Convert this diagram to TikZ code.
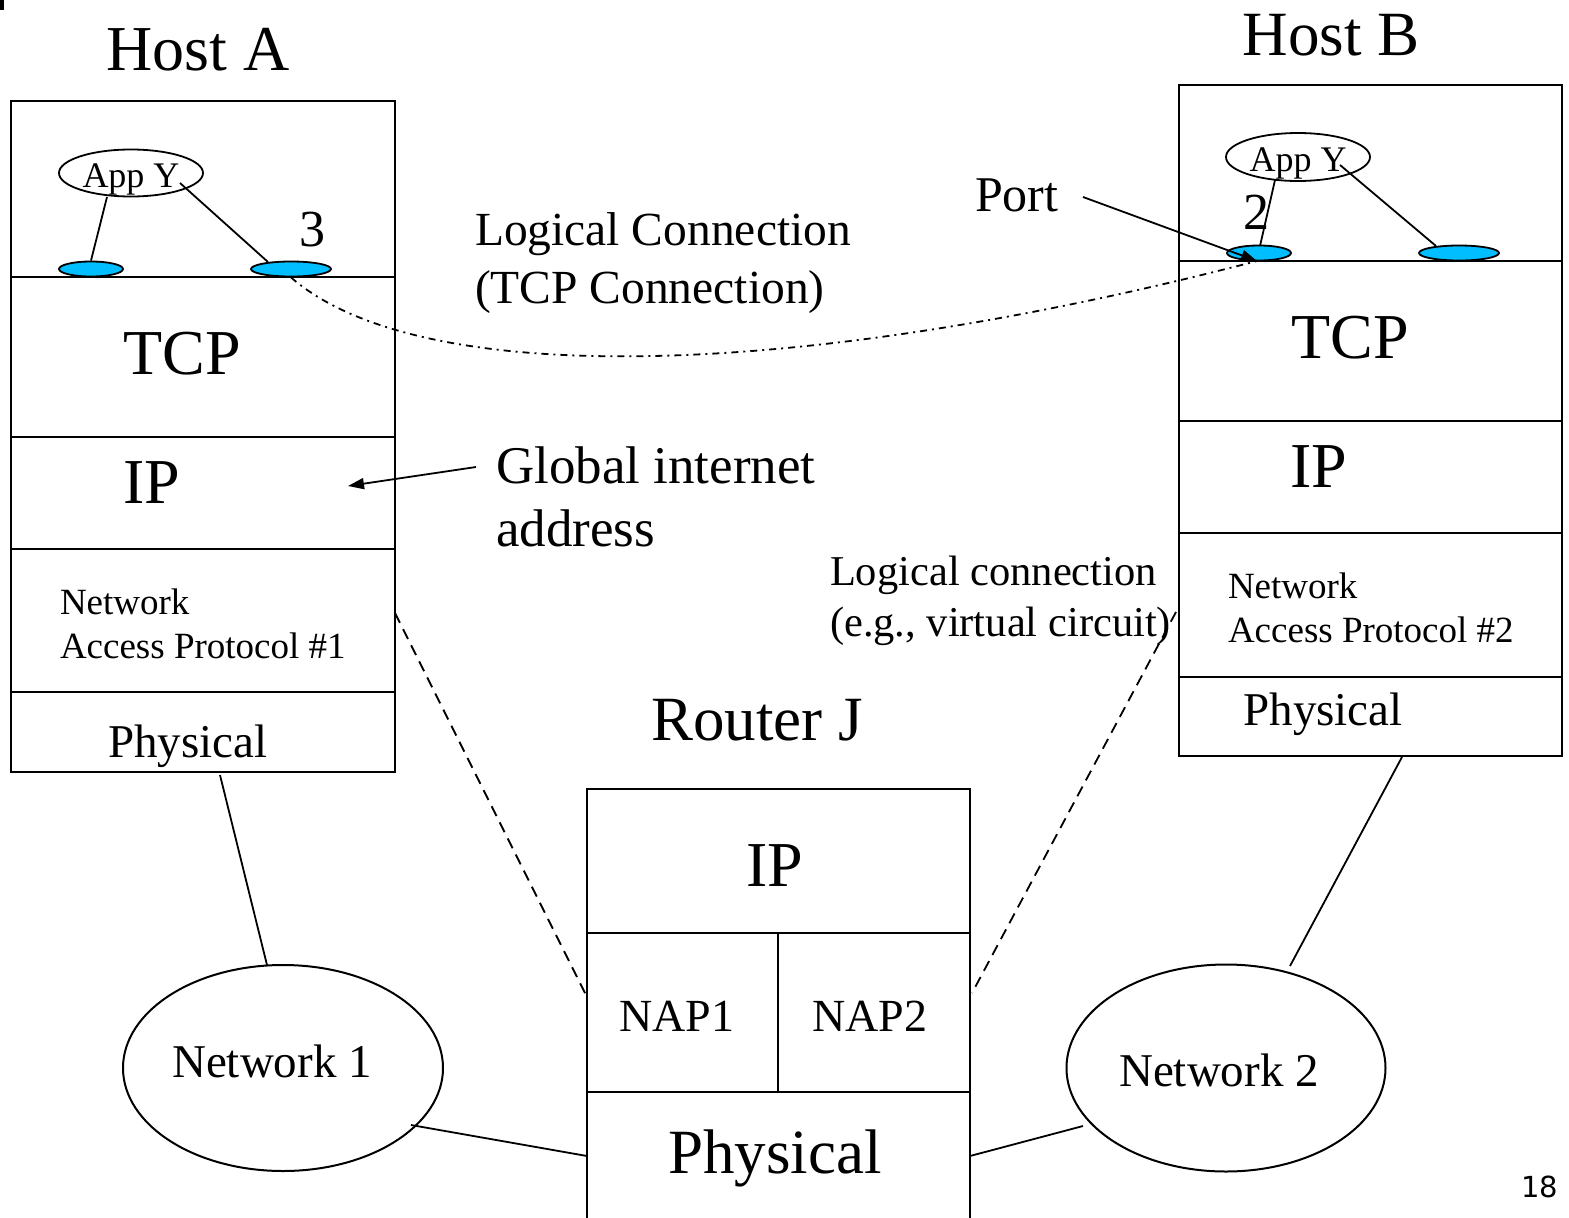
\documentclass[tikz,border=0pt]{standalone}
\usepackage{fontspec}
\setmainfont{Liberation Serif}
\newfontfamily\pagefont{DejaVu Sans}
\usetikzlibrary{arrows.meta,shapes.geometric}
\definecolor{portblue}{RGB}{0,190,255}
\newcommand{\fs}[1]{\fontsize{#1}{#1}\selectfont}
\tikzset{
  boxline/.style={draw=black, line width=2pt},
  link/.style={draw=black, line width=1.8pt},
  dashlink/.style={draw=black, line width=1.8pt, dash pattern=on 11pt off 7pt},
  dotdash/.style={draw=black, line width=1.8pt, dash pattern=on 7pt off 5pt on 2pt off 5pt},
  portell/.style={ellipse, draw=black, fill=portblue, line width=1.8pt, inner sep=0pt},
  appell/.style={ellipse, draw=black, line width=1.8pt, inner sep=0pt},
  netell/.style={ellipse, draw=black, line width=2pt, inner sep=0pt},
  lbl/.style={inner sep=0pt, outer sep=0pt},
}
\begin{document}
\begin{tikzpicture}[x=1pt, y=-1pt]
\useasboundingbox (0,0) rectangle (1569,1218);
\fill[black] (0,0) rectangle (4,10);

% ---------- Host A ----------
\node[lbl, anchor=base] (hostA) at (198,70) {\fs{64}Host A};
\draw[boxline] (11,101) rectangle (395,772);
\draw[boxline] (11,277) -- (395,277);
\draw[boxline] (11,437) -- (395,437);
\draw[boxline] (11,549) -- (395,549);
\draw[boxline] (11,692) -- (395,692);
\node[lbl, anchor=base] (tcpA) at (182,374) {\fs{64}TCP};
\node[lbl, anchor=base] (ipA) at (152,503) {\fs{64}IP};
\node[lbl, anchor=base west] (napA1) at (60,614) {\fs{37}Network};
\node[lbl, anchor=base west] (napA2) at (60,658) {\fs{37}Access Protocol \#1};
\node[lbl, anchor=base] (physA) at (188,757) {\fs{47}Physical};
\node[appell, minimum width=144pt, minimum height=47pt] (appA) at (131,173) {};
\node[lbl, anchor=base] (appAt) at (131,187) {\fs{36}App Y};
\node[portell, minimum width=64pt, minimum height=15pt] (pA1) at (91,269) {};
\node[portell, minimum width=80pt, minimum height=15pt] (pA2) at (291,269) {};
\node[lbl, anchor=base] (threeA) at (312,246) {\fs{52}3};
\coordinate (appAl) at (107,197);
\coordinate (appAr) at (180,183);
\draw[link] (appAl) -- (pA1.north);
\draw[link] (appAr) -- (268,262);

% ---------- Host B ----------
\node[lbl, anchor=base] (hostB) at (1331,55) {\fs{63}Host B};
\draw[boxline] (1179,85) rectangle (1562,756);
\draw[boxline] (1179,261) -- (1562,261);
\draw[boxline] (1179,421) -- (1562,421);
\draw[boxline] (1179,533) -- (1562,533);
\draw[boxline] (1179,677) -- (1562,677);
\node[lbl, anchor=base] (tcpB) at (1350,358) {\fs{64}TCP};
\node[lbl, anchor=base] (ipB) at (1319,487) {\fs{64}IP};
\node[lbl, anchor=base west] (napB1) at (1228,598) {\fs{37}Network};
\node[lbl, anchor=base west] (napB2) at (1228,642) {\fs{37}Access Protocol \#2};
\node[lbl, anchor=base] (physB) at (1323,725) {\fs{47}Physical};
\node[appell, minimum width=144pt, minimum height=48pt] (appB) at (1298,157) {};
\node[lbl, anchor=base] (appBt) at (1298,171) {\fs{36}App Y};
\node[portell, minimum width=64pt, minimum height=15pt] (pB1) at (1259,253) {};
\node[portell, minimum width=80pt, minimum height=15pt] (pB2) at (1459,253) {};
\node[lbl, anchor=base] (twoB) at (1256,229) {\fs{52}2};
\coordinate (appBl) at (1275,180);
\coordinate (appBr) at (1340,165);
\draw[link] (appBl) -- (1260,246);
\draw[link] (appBr) -- (1436,246);

% ---------- Router J ----------
\node[lbl, anchor=base] (routerJ) at (757,740) {\fs{63}Router J};
\draw[boxline] (587,1219) -- (587,789) -- (970,789) -- (970,1219);
\draw[boxline] (587,933) -- (970,933);
\draw[boxline] (587,1092) -- (970,1092);
\draw[boxline] (778,933) -- (778,1092);
\node[lbl, anchor=base] (ipR) at (775,886) {\fs{64}IP};
\node[lbl, anchor=base] (nap1) at (677,1031) {\fs{46}NAP1};
\node[lbl, anchor=base] (nap2) at (870,1031) {\fs{46}NAP2};
\node[lbl, anchor=base] (physR) at (775,1173) {\fs{63}Physical};

% ---------- Networks ----------
\node[netell, minimum width=320pt, minimum height=206pt] (net1) at (283,1068) {};
\node[lbl, anchor=base] (net1t) at (272,1077) {\fs{47}Network 1};
\node[netell, minimum width=319pt, minimum height=207pt] (net2) at (1226,1068) {};
\node[lbl, anchor=base] (net2t) at (1219,1086) {\fs{47}Network 2};

% ---------- Labels ----------
\node[lbl, anchor=base west] (lc1) at (475,245) {\fs{47.5}Logical Connection};
\node[lbl, anchor=base west] (lc2) at (475,303) {\fs{47.5}(TCP Connection)};
\node[lbl, anchor=base west] (port) at (975,211) {\fs{50}Port};
\node[lbl, anchor=base west] (gia1) at (496,483) {\fs{53}Global internet};
\node[lbl, anchor=base west] (gia2) at (496,546) {\fs{53}address};
\node[lbl, anchor=base west] (vc1) at (830,585) {\fs{42.5}Logical connection};
\node[lbl, anchor=base west] (vc2) at (830,636) {\fs{42.5}(e.g., virtual circuit)};
\node[lbl, anchor=base east] (pageno) at (1558,1197) {\pagefont\fs{29}18};

% ---------- Connectors ----------
\coordinate (portFrom) at (1083,197);
\coordinate (portTo) at (1257,261);
\draw[link, -{Triangle[length=16pt, width=11pt]}] (portFrom) -- (portTo);
\coordinate (giaFrom) at (476,467);
\coordinate (giaTo) at (348,486);
\draw[link, -{Triangle[length=16pt, width=11pt]}] (giaFrom) -- (giaTo);
\draw[dotdash] (pA2.south) .. controls (420,390) and (800,380) .. (portTo);

\coordinate (hAr) at (395,613);
\coordinate (rLl) at (587,997);
\draw[dashlink] (hAr) -- (rLl);
\coordinate (hBl) at (1176,612);
\coordinate (rRr) at (972,993);
\draw[dashlink] (hBl) -- (rRr);

\coordinate (hAb) at (220,775);
\draw[link] (hAb) -- (267,965);
\coordinate (hBb) at (1402,757);
\draw[link] (hBb) -- (1290,966);
\coordinate (rPl) at (587,1156);
\draw[link] (411,1125) -- (rPl);
\coordinate (rPr) at (970,1156);
\draw[link] (1083,1126) -- (rPr);
\end{tikzpicture}
\end{document}
